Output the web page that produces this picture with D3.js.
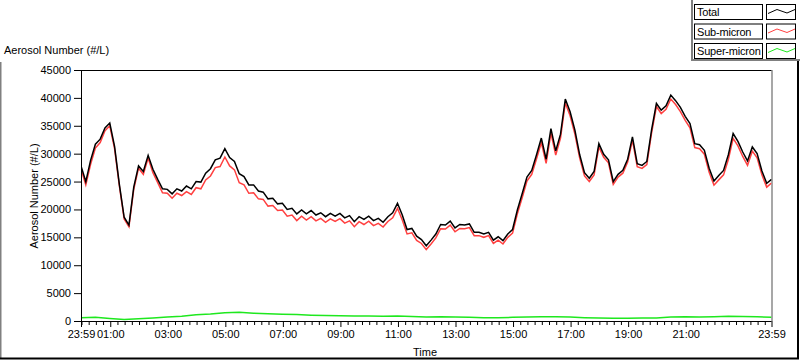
<!DOCTYPE html>
<html><head><meta charset="utf-8">
<script src="https://cdn.jsdelivr.net/npm/d3@7/dist/d3.min.js"></script>
<style>
html,body{margin:0;padding:0;background:#fff;}
svg{display:block;font-family:"Liberation Sans",Arial,sans-serif;}
</style></head><body>
<svg id="c" width="800" height="361"></svg>
<script>
// Time in minutes relative to midnight (start 23:59 of previous day = -1)
const totalStep = 10; // minutes between Total / Sub-micron samples
const superStep = 30; // minutes between Super-micron samples
const startMinute = -1;
const endMinute = 1439;

const totalValues = [27800,25000,28800,31700,32600,34600,35500,31300,24500,18600,
17200,24000,27800,26800,29700,27200,25400,23700,23600,22800,
23700,23300,24200,23700,25000,24900,26500,27300,28900,29200,
30900,29300,28600,26400,25900,24400,24400,23300,23100,21900,
22000,21000,21100,20000,20200,19200,19900,19200,19800,19000,
19400,18700,19300,18800,19300,18500,18900,17800,18700,18200,
18800,18000,18400,17700,18700,19400,21100,19000,16400,16600,
15200,14600,13500,14500,15600,17300,17200,17900,16700,17300,
17200,17400,15900,15900,15600,15900,14500,15100,14400,15600,
16400,19900,22800,25800,27000,29800,32800,29000,34500,30500,
33500,39800,37500,34200,29800,26600,25600,26800,31800,29900,
28900,25000,26300,27000,29000,33000,28200,27900,28600,34300,
39000,37800,38600,40500,39500,38300,36700,35400,31800,31600,
30600,27400,25100,26100,27000,29800,33600,32200,30300,28700,
31200,30000,26900,24700,25400];

const subValues = [27200,24400,28100,31000,32000,34100,35000,30900,24200,18300,
16900,23600,27400,26300,29200,26600,24800,23000,22900,22000,
22900,22500,23200,22700,23900,23700,25300,26000,27500,27700,
29400,27800,27100,24800,24400,22900,23000,21900,21800,20600,
20700,19800,19900,18800,19000,18000,18800,18100,18700,17950,
18400,17700,18300,17850,18350,17550,17950,16900,17800,17300,
17900,17100,17500,16850,17850,18500,20200,18100,15600,15800,
14450,13900,12800,13800,14900,16550,16500,17200,16000,16600,
16550,16750,15300,15300,15000,15300,13900,14500,13800,15000,
15750,19200,22100,25100,26300,29100,32000,28250,33700,29750,
32800,39100,36800,33500,29200,26000,25000,26200,31200,29350,
28350,24500,25800,26500,28500,32450,27650,27350,28050,33750,
38450,37200,37950,39800,38800,37550,35950,34650,31100,30900,
29900,26650,24350,25300,26200,28950,32750,31400,29500,27900,
30450,29250,26200,24000,24750];

const superValues = [600,650,450,250,400,550,700,850,1100,1250,
1500,1550,1400,1300,1200,1150,1050,1000,950,900,
900,850,900,800,700,750,700,650,600,600,
650,700,750,750,700,600,550,500,500,550,
550,700,750,700,750,850,800,750,650];

const yTicks = [0,5000,10000,15000,20000,25000,30000,35000,40000,45000];
const xMajorTicks = [-1,60,180,300,420,540,660,780,900,1020,1140,1260,1439];
const xMajorLabels = ["23:59","01:00","03:00","05:00","07:00","09:00","11:00","13:00","15:00","17:00","19:00","21:00","23:59"];
const seriesNames = ["Total","Sub-micron","Super-micron"];
const seriesColors = ["#000000","#ff4040","#1ee81e"];

const svg = d3.select("#c");
const L = 81, R = 771.5, T = 70, B = 321;
const x = d3.scaleLinear().domain([startMinute, endMinute]).range([L, R]);
const y = d3.scaleLinear().domain([0, 45000]).range([B, T]);

// outer panel borders
svg.append("line").attr("x1",0.5).attr("x2",0.5).attr("y1",62).attr("y2",358).attr("stroke","#808080").attr("stroke-width",2);
svg.append("line").attr("x1",0).attr("x2",799).attr("y1",358.5).attr("y2",358.5).attr("stroke","#000").attr("stroke-width",2);
svg.append("line").attr("x1",798).attr("x2",798).attr("y1",61).attr("y2",359).attr("stroke","#000").attr("stroke-width",2);
// legend frame
svg.append("line").attr("x1",692).attr("x2",692).attr("y1",0).attr("y2",60).attr("stroke","#808080").attr("stroke-width",2);
svg.append("line").attr("x1",691).attr("x2",800).attr("y1",60).attr("y2",60).attr("stroke","#808080").attr("stroke-width",2);

// title
svg.append("text").attr("x",4).attr("y",54).attr("font-size",11).text("Aerosol Number (#/L)");

// plot frame top and right
svg.append("line").attr("x1",L).attr("x2",R+0.5).attr("y1",T+0.5).attr("y2",T+0.5).attr("stroke","#000");
svg.append("line").attr("x1",R+0.5).attr("x2",R+0.5).attr("y1",T).attr("y2",B).attr("stroke","#8a8a8a").attr("stroke-width",1.5);

// series lines
const tTotal = totalValues.map((v,i)=>startMinute + i*totalStep);
const tSuper = superValues.map((v,i)=>startMinute + i*superStep);
const line = d3.line().x(d=>x(d[0])).y(d=>y(d[1]));
svg.append("clipPath").attr("id","pc").append("rect").attr("x",L).attr("y",T).attr("width",R-L).attr("height",B-T);
const g = svg.append("g").attr("clip-path","url(#pc)");
g.append("path").datum(superValues.map((v,i)=>[tSuper[i],v])).attr("d",line).attr("fill","none").attr("stroke",seriesColors[2]).attr("stroke-width",1.5);
g.append("path").datum(subValues.map((v,i)=>[tTotal[i],v])).attr("d",line).attr("fill","none").attr("stroke",seriesColors[1]).attr("stroke-width",1.5);
g.append("path").datum(totalValues.map((v,i)=>[tTotal[i],v])).attr("d",line).attr("fill","none").attr("stroke",seriesColors[0]).attr("stroke-width",1.5);

// y axis
const ya = svg.append("g").attr("transform",`translate(${L},0)`)
  .call(d3.axisLeft(y).tickValues(yTicks).tickSize(7).tickPadding(3).tickFormat(d3.format("d")));
ya.selectAll("text").attr("font-size",11).attr("fill","#000").attr("font-family","Liberation Sans, Arial, sans-serif");
ya.selectAll("line").attr("stroke","#000");
ya.select(".domain").attr("stroke","#000");

// x axis minor ticks every 15 minutes
const minorTicks = d3.range(0, 1440, 15).filter(t => !xMajorTicks.includes(t));
const xm = svg.append("g").attr("transform",`translate(0,${B})`)
  .call(d3.axisBottom(x).tickValues(minorTicks).tickSize(4).tickFormat(""));
xm.select(".domain").remove();
xm.selectAll("line").attr("stroke","#000");
const xa = svg.append("g").attr("transform",`translate(0,${B})`)
  .call(d3.axisBottom(x).tickValues(xMajorTicks).tickSize(6).tickPadding(3)
    .tickFormat((d,i)=>xMajorLabels[i]));
xa.selectAll("text").attr("font-size",11).attr("fill","#000").attr("font-family","Liberation Sans, Arial, sans-serif");
xa.selectAll("line").attr("stroke","#000");
xa.select(".domain").attr("stroke","#000").attr("d",`M${L},0.5H${R}`);

// axis titles
svg.append("text").attr("x",425).attr("y",356).attr("text-anchor","middle").attr("font-size",11).text("Time");
svg.append("text").attr("transform","translate(38,196) rotate(-90)").attr("text-anchor","middle").attr("font-size",11).text("Aerosol Number (#/L)");

// legend
seriesNames.forEach((name,i)=>{
  const top = 4 + i*19.5;
  svg.append("rect").attr("x",694.5).attr("y",top+0.5).attr("width",68).attr("height",15).attr("fill","#fff").attr("stroke","#000");
  svg.append("text").attr("x",697).attr("y",top+12).attr("font-size",11).attr("letter-spacing",-0.2).text(name);
  svg.append("rect").attr("x",766.5).attr("y",top+0.5).attr("width",29).attr("height",15).attr("fill","#fff").attr("stroke","#000");
  svg.append("path").attr("d",`M768,${top+9.5}L777,${top+5.5}L787,${top+9}L795,${top+5.5}`)
    .attr("fill","none").attr("stroke",seriesColors[i]);
});
</script>
</body></html>
